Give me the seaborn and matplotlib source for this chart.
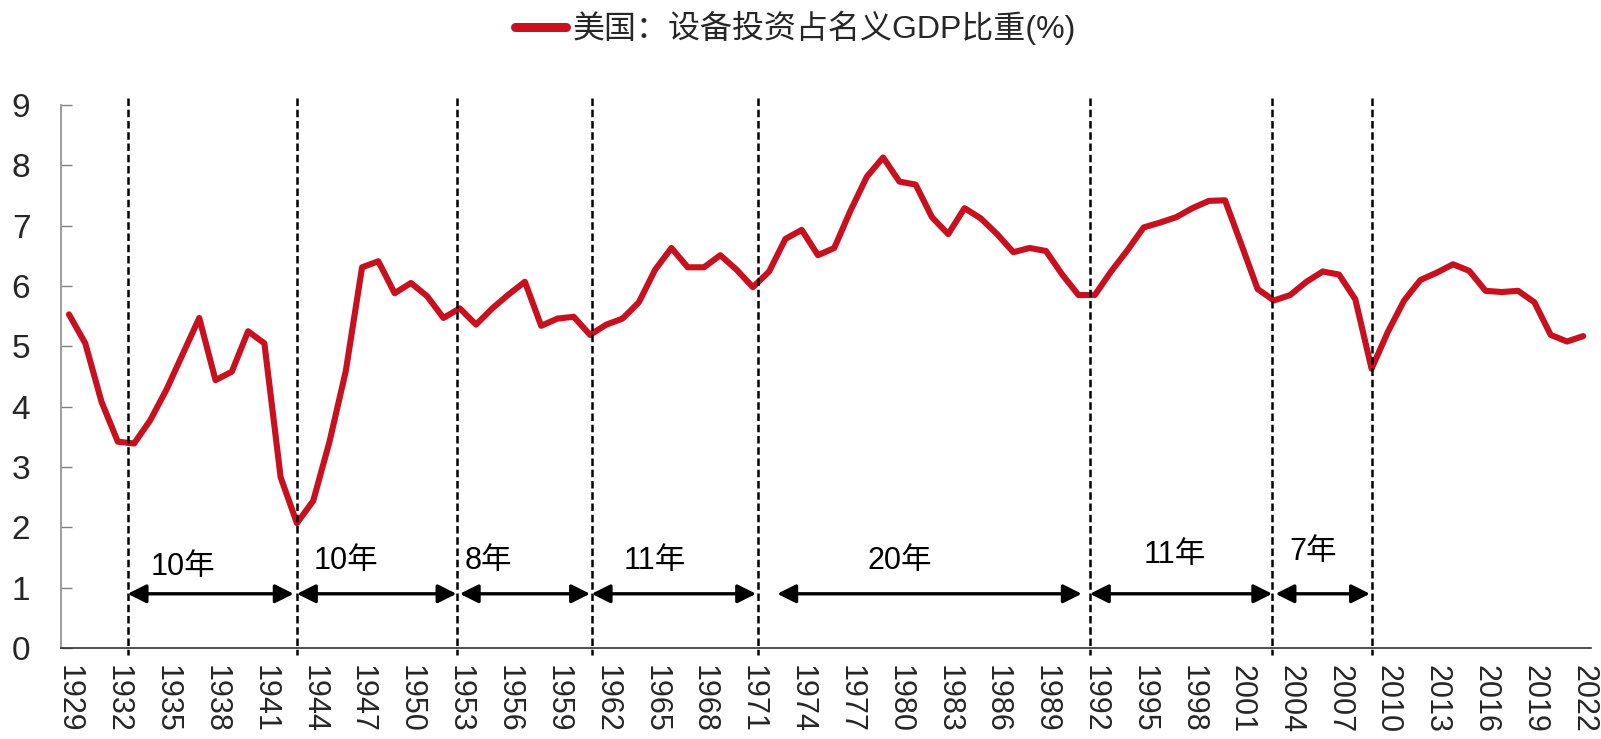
import numpy as np
import pandas as pd
import matplotlib
matplotlib.use("Agg")
import matplotlib.pyplot as plt
import seaborn as sns

# ---------------- data ----------------
years = list(range(1929, 2023))
values = [
    5.53, 5.05, 4.08, 3.42, 3.39, 3.78, 4.29, 4.88, 5.47, 4.44,   # 1929-1938
    4.58, 5.25, 5.05, 2.83, 2.07, 2.44, 3.42, 4.59, 6.31, 6.41,   # 1939-1948
    5.88, 6.05, 5.83, 5.47, 5.63, 5.36, 5.63, 5.86, 6.07, 5.34,   # 1949-1958
    5.46, 5.49, 5.19, 5.36, 5.46, 5.73, 6.27, 6.63, 6.31, 6.31,   # 1959-1968
    6.51, 6.27, 5.98, 6.24, 6.78, 6.93, 6.51, 6.63, 7.25, 7.81,   # 1969-1978
    8.13, 7.73, 7.68, 7.14, 6.86, 7.29, 7.12, 6.86, 6.56, 6.63,   # 1979-1988
    6.58, 6.19, 5.85, 5.85, 6.24, 6.59, 6.97, 7.05, 7.14, 7.29,   # 1989-1998
    7.41, 7.42, 6.69, 5.95, 5.76, 5.85, 6.07, 6.24, 6.19, 5.78,   # 1999-2008
    4.63, 5.24, 5.76, 6.10, 6.22, 6.36, 6.25, 5.92, 5.90, 5.92,   # 2009-2018
    5.73, 5.19, 5.08, 5.17,                                       # 2019-2022
]
series_name = "美国：设备投资占名义GDP比重(%)"

# cycle boundaries (years, fractional as drawn) and cycle annotations
cycle_bounds = [1932.6, 1943.0, 1952.8, 1961.1, 1971.3, 1991.7, 2002.9, 2009.0]
arrow_start = [1932.6, 1943.0, 1953.0, 1961.1, 1972.5, 1991.7, 2003.1]
arrow_end = [1942.8, 1952.8, 1961.0, 1971.2, 1991.2, 2002.9, 2008.9]
cycle_labels = ["10年", "10年", "8年", "11年", "20年", "11年", "7年"]
label_year = [1936.0, 1946.0, 1954.75, 1965.0, 1980.0, 1996.9, 2005.4]
label_val = [1.34, 1.44, 1.44, 1.44, 1.44, 1.54, 1.59]

y_ticks = list(range(0, 10))

# ---------------- style ----------------
sns.set_theme(style="white")
plt.rcParams["font.family"] = ["Liberation Sans", "Noto Sans CJK SC", "DejaVu Sans"]
plt.rcParams["axes.unicode_minus"] = False

RED = "#C8101E"

df = pd.DataFrame({"idx": np.arange(len(years)), "value": values, "series": series_name})

fig = plt.figure(figsize=(16.01, 7.39), dpi=100)
ax = fig.add_axes([0.038, 0.123, 0.956, 0.735])

sns.lineplot(data=df, x="idx", y="value", hue="series", palette=[RED],
             linewidth=4.4, ax=ax, legend=True)

x0 = years[0]
def yx(y):
    return y - x0

ax.set_xlim(-0.5, len(years) - 0.5)
ax.set_ylim(0, 9)
ax.set_xlabel("")
ax.set_ylabel("")

# y axis
ax.set_yticks(y_ticks)
ax.set_yticklabels([str(t) for t in y_ticks], fontsize=24)
# x axis: labels centred on categories, tick marks on category boundaries
lab_idx = np.arange(0, len(years), 3)
ax.set_xticks(lab_idx)
ax.set_xticklabels([str(years[i]) for i in lab_idx], rotation=270, fontsize=22,
                   va="top", ha="center")
ax.set_xticks(np.arange(2.5, len(years) - 0.5, 3), minor=True)
ax.tick_params(axis="x", which="major", length=0, pad=12)
ax.tick_params(axis="x", which="minor", direction="in", length=8, width=1, color="#404040")
ax.tick_params(axis="y", which="major", direction="in", length=8, width=1,
               color="#808080", pad=22, left=True)

for s in ["top", "right"]:
    ax.spines[s].set_visible(False)
ax.spines["left"].set_color("#8c8c8c")
ax.spines["left"].set_linewidth(1.2)
ax.spines["bottom"].set_color("#303030")
ax.spines["bottom"].set_linewidth(1.2)
ax.grid(False)

# dashed cycle boundaries
for b in cycle_bounds:
    ax.plot([yx(b), yx(b)], [9.12, -0.12], color="black", linewidth=1.8,
            dashes=(3.0, 1.5), clip_on=False, zorder=3)

# arrows + labels
for s, e in zip(arrow_start, arrow_end):
    ax.annotate("", xy=(yx(e), 0.9), xytext=(yx(s), 0.9),
                arrowprops=dict(arrowstyle="<|-|>", color="black", lw=2.4,
                                mutation_scale=28, shrinkA=0, shrinkB=0),
                zorder=4)
for t, lx, lv in zip(cycle_labels, label_year, label_val):
    ax.text(yx(lx), lv, t, fontsize=22, ha="center", va="center", color="black",
            family=["Liberation Sans", "Noto Sans CJK SC"])

# legend at the top
leg = ax.legend(loc="center", bbox_to_anchor=(0.497, 0.962), bbox_transform=fig.transFigure,
                frameon=False, handlelength=1.6, handletextpad=0.2,
                prop={"family": ["Liberation Sans", "Noto Sans CJK SC"], "size": 23})
for ln in leg.get_lines():
    ln.set_linewidth(6.5)

fig.savefig("out.png", dpi=100)
